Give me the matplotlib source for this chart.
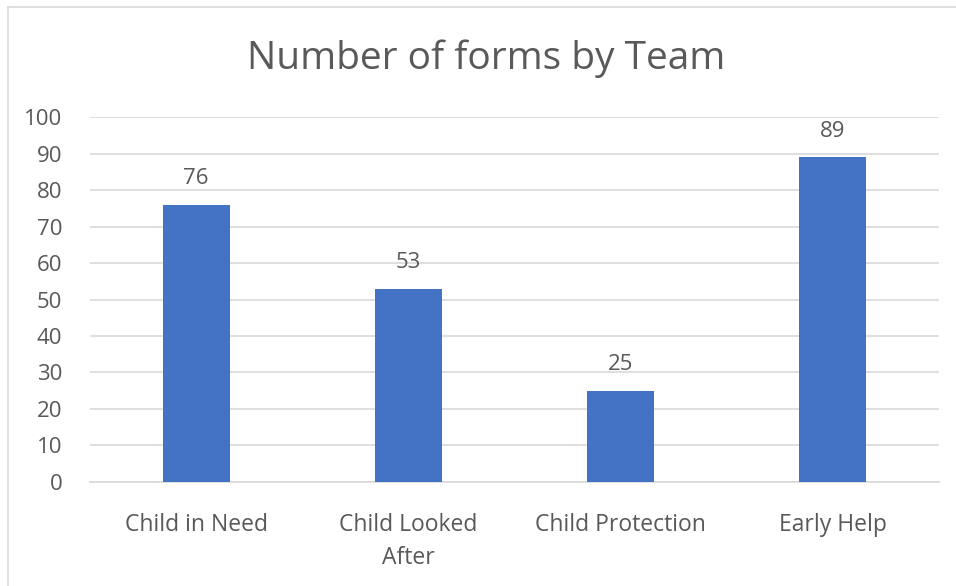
import matplotlib.pyplot as plt
from matplotlib.lines import Line2D

teams = ["Child in Need", "Child Looked\nAfter", "Child Protection", "Early Help"]
forms = [76, 53, 25, 89]
y_ticks = list(range(0, 101, 10))

plt.rcParams["font.family"] = ["Open Sans", "DejaVu Sans"]
text_color = "#595959"
grid_color = "#D9D9D9"

fig = plt.figure(figsize=(9.56, 5.86), dpi=100)
ax = fig.add_axes([0.0941, 0.1775, 0.8881, 0.6228])

x = list(range(len(teams)))
bars = ax.bar(x, forms, width=0.315, color="#4472C4", zorder=3)

# value labels above bars
for b, v in zip(bars, forms):
    ax.annotate(str(v), (b.get_x() + b.get_width() / 2, v),
                xytext=(0, 11), textcoords="offset points",
                ha="center", va="bottom", fontsize=16, color=text_color)

ax.set_xlim(-0.5, len(teams) - 0.5)
ax.set_ylim(0, 100)
ax.set_yticks(y_ticks)
ax.set_xticks(x)
ax.set_xticklabels(teams, fontsize=16.5, color=text_color, linespacing=1.5, va="top")
ax.tick_params(axis="y", labelsize=16, labelcolor=text_color, length=0, pad=20)
ax.tick_params(axis="x", length=0, pad=22)
for lbl in ax.get_yticklabels():
    lbl.set_horizontalalignment("right")

ax.grid(axis="y", color=grid_color, linewidth=1.2, zorder=0)
for s in ["top", "right", "left"]:
    ax.spines[s].set_visible(False)
ax.spines["bottom"].set_color(grid_color)
ax.spines["bottom"].set_linewidth(1.2)

fig.text(0.509, 0.90, "Number of forms by Team", ha="center", va="center",
         fontsize=28, color=text_color)

# chart outer border (left and top edges visible)
fig.add_artist(Line2D([8 / 956, 8 / 956], [0, 1 - 7 / 586], color=grid_color, lw=1.2))
fig.add_artist(Line2D([8 / 956, 1], [1 - 7 / 586, 1 - 7 / 586], color=grid_color, lw=1.2))

fig.savefig("out.png", dpi=100)
